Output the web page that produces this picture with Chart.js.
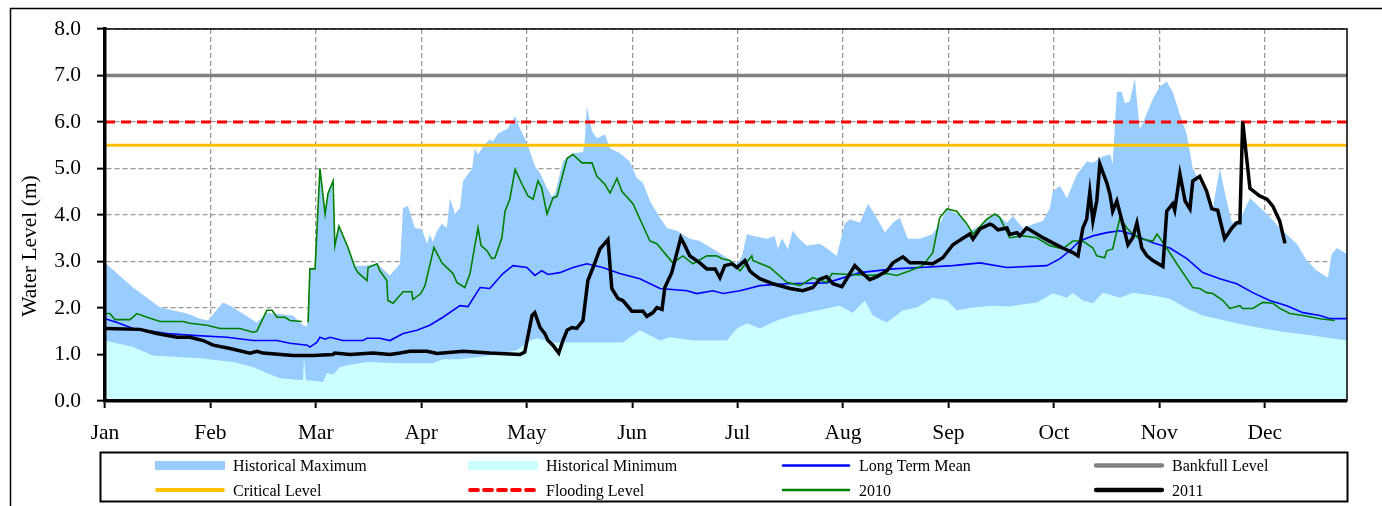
<!DOCTYPE html>
<html>
<head>
<meta charset="utf-8">
<script src="https://cdn.jsdelivr.net/npm/chart.js@4.4.1/dist/chart.umd.min.js"></script>
<style>
html,body{margin:0;background:#fff}
#wrap{width:1382px;height:506px;position:relative}
</style>
</head>
<body>
<div id="wrap"><canvas id="chart-nivel"></canvas></div>
<script>
// ══════════════════════════════════════════
// DADOS (dia do ano, nível em m)
// ══════════════════════════════════════════
const meses=['Jan','Feb','Mar','Apr','May','Jun','Jul','Aug','Sep','Oct','Nov','Dec'];
const diaFinal=358.3;
const yTitulo='Water Level (m)';

const bankfullLevel=7.0, floodingLevel=6.0, criticalLevel=5.5;

const histMax=[[0,2.97],[8.1,2.44],[15.9,2.01],[23.7,1.88],[27.4,1.77],[29.7,1.73],[34.0,2.12],[36.1,2.05],[43.8,1.69],[46.7,1.90],[54.2,1.84],[57.1,1.63],[58.3,1.60],[59.1,2.84],[60.6,2.84],[62.0,5.0],[63.5,4.04],[64.3,4.5],[65.5,4.7],[66.3,3.34],[67.2,3.76],[70.1,3.3],[72.1,2.91],[75.0,2.91],[78.5,2.95],[82.2,2.70],[85.1,2.95],[86.0,4.15],[87.4,4.19],[89.4,3.72],[91.4,3.70],[92.9,3.38],[93.7,3.59],[94.6,3.42],[95.8,3.66],[97.2,3.81],[98.6,3.72],[99.5,4.36],[101.0,4.02],[102.4,4.15],[103.3,4.73],[105.9,5.0],[106.7,5.43],[107.6,5.3],[109.6,5.52],[111.0,5.63],[111.9,5.58],[113.4,5.75],[116.2,5.86],[118.3,6.12],[119.7,5.86],[121.7,5.55],[124.0,5.05],[125.5,4.9],[127.5,4.58],[128.9,4.4],[129.8,4.45],[132.1,5.15],[135.0,5.33],[137.9,5.35],[138.4,5.6],[139.0,6.33],[140.5,5.8],[141.9,5.65],[144.2,5.73],[145.7,5.43],[148.5,5.33],[151.4,5.15],[153.4,4.8],[155.2,4.69],[157.2,4.3],[160.1,3.94],[162.1,3.72],[165.0,3.66],[168.7,3.49],[171.6,3.44],[175.4,3.27],[179.4,3.08],[182.3,2.95],[183.7,3.1],[185.2,3.59],[186.9,3.55],[191.0,3.49],[193.2,3.55],[194.1,3.27],[195.3,3.5],[197.0,3.27],[198.4,3.66],[199.9,3.51],[202.5,3.34],[206.2,3.38],[208.5,3.27],[211.1,3.12],[213.4,3.81],[214.9,3.91],[217.8,3.83],[220.1,4.24],[221.5,4.08],[225.0,3.62],[227.3,3.83],[229.3,3.94],[231.6,3.49],[235.1,3.49],[238.8,3.59],[240.8,3.81],[242.9,4.13],[246.6,4.0],[249.5,3.66],[252.4,3.76],[254.7,3.94],[257.3,4.02],[260.2,3.83],[261.9,3.98],[264.8,3.72],[267.7,3.8],[270.6,3.87],[272.6,4.15],[273.4,4.51],[275.5,4.62],[277.5,4.36],[280.4,4.87],[283.2,5.15],[285.0,5.12],[287.9,5.26],[290.0,5.30],[290.7,5.09],[291.9,6.65],[293.3,6.65],[294.2,6.4],[295.6,6.44],[297.1,6.93],[298.5,5.84],[299.4,5.97],[302.3,6.5],[304.3,6.76],[306.3,6.87],[308.0,6.65],[310.1,6.16],[312.1,5.73],[313.8,5.0],[316.7,4.58],[319.6,4.15],[321.6,5.0],[323.6,4.3],[325.1,3.83],[327.4,3.9],[330.3,4.36],[335.2,4.02],[338.9,3.72],[343.8,3.38],[346.7,3.02],[349.6,2.8],[352.8,2.65],[353.9,3.16],[355.4,3.29],[358.3,3.16]];

const histMin=[[0,1.30],[8.1,1.16],[13.8,0.98],[27.4,0.92],[36.9,0.84],[42.7,0.73],[46.7,0.60],[50.5,0.49],[56.3,0.45],[57.1,0.46],[57.4,0.92],[58.0,0.45],[62.9,0.41],[64.0,0.6],[65.8,0.57],[67.8,0.73],[69.8,0.77],[75.6,0.84],[85.1,0.81],[94.6,0.81],[97.5,0.90],[102.4,0.90],[111.0,0.98],[118.8,1.09],[122.6,1.30],[124.6,1.35],[129.2,1.26],[149.4,1.26],[154.3,1.52],[160.1,1.30],[163.0,1.37],[169.6,1.30],[179.4,1.30],[182.3,1.56],[185.2,1.67],[188.9,1.56],[193.8,1.73],[198.4,1.84],[208.2,1.99],[212.0,2.05],[215.7,1.9],[219.2,2.16],[221.5,1.84],[225.6,1.69],[230.2,1.95],[234.2,2.01],[238.8,2.22],[242.9,2.16],[245.7,1.95],[250.4,2.01],[256.1,2.05],[261.0,2.03],[264.8,2.08],[268.8,2.12],[273.4,2.31],[275.5,2.27],[277.5,2.22],[279.2,2.33],[282.1,2.16],[285.0,2.10],[287.9,2.33],[292.8,2.22],[296.5,2.33],[302.3,2.27],[307.2,2.2],[312.1,1.99],[316.7,1.84],[326.5,1.67],[334.0,1.56],[340.9,1.48],[348.4,1.41],[358.3,1.30]];

const mediaLonga=[[0,1.77],[3.5,1.69],[8.1,1.56],[17.9,1.45],[25.4,1.41],[35.2,1.37],[42.7,1.30],[49.6,1.30],[53.4,1.24],[58.3,1.20],[59.1,1.16],[61.1,1.26],[62.0,1.37],[63.5,1.33],[64.9,1.37],[68.6,1.30],[74.4,1.30],[75.6,1.35],[79.3,1.35],[82.2,1.30],[86.0,1.45],[90.0,1.52],[93.7,1.63],[97.5,1.80],[102.4,2.05],[104.7,2.03],[108.2,2.44],[111.0,2.42],[114.8,2.74],[117.7,2.91],[121.7,2.87],[124.0,2.70],[126.0,2.8],[127.8,2.72],[131.2,2.76],[135.0,2.87],[139.0,2.95],[143.6,2.87],[148.5,2.74],[154.3,2.63],[160.1,2.42],[167.9,2.37],[170.7,2.31],[175.4,2.37],[178.3,2.31],[183.2,2.37],[188.9,2.48],[196.7,2.52],[208.2,2.54],[217.8,2.76],[227.3,2.84],[235.1,2.87],[244.6,2.91],[252.4,2.97],[260.2,2.87],[271.7,2.91],[275.5,3.06],[278.3,3.23],[281.2,3.44],[285.0,3.55],[289.0,3.62],[292.8,3.66],[296.5,3.58],[302.3,3.4],[307.2,3.29],[312.1,3.06],[316.7,2.76],[321.6,2.63],[326.5,2.52],[331.1,2.33],[336.0,2.16],[340.9,2.05],[345.6,1.9],[350.5,1.84],[353.4,1.77],[358.3,1.77]];

const ano2010=[[0,1.88],[1.4,1.88],[2.9,1.75],[7.2,1.75],[9.2,1.88],[12.1,1.80],[15.9,1.71],[22.5,1.71],[24.5,1.67],[29.4,1.63],[33.2,1.56],[38.9,1.56],[42.7,1.48],[43.8,1.50],[46.7,1.95],[48.2,1.95],[49.6,1.8],[51.9,1.8],[53.4,1.73],[56.8,1.71],[57.5,null],[58.6,1.69],[59.1,2.84],[60.6,2.84],[62.0,5.0],[63.5,4.02],[64.3,4.45],[65.8,4.73],[66.3,3.34],[67.5,3.76],[70.1,3.3],[72.1,2.87],[73.0,2.76],[75.6,2.59],[75.9,2.87],[78.5,2.95],[79.3,2.8],[81.3,2.59],[81.6,2.16],[83.1,2.10],[86.0,2.35],[88.5,2.35],[88.8,2.18],[91.1,2.31],[92.3,2.48],[94.9,3.3],[97.2,2.97],[100.4,2.74],[101.5,2.55],[103.8,2.44],[105.3,2.74],[107.6,3.72],[108.5,3.34],[110.2,3.23],[111.6,3.06],[112.5,3.08],[114.5,3.51],[115.4,4.08],[116.8,4.34],[118.3,4.98],[120.3,4.66],[122.0,4.41],[123.5,4.34],[124.9,4.73],[126.0,4.58],[127.5,4.02],[129.2,4.36],[130.4,4.4],[133.3,5.22],[135.0,5.30],[137.6,5.12],[140.5,5.12],[141.9,4.83],[144.2,4.66],[145.7,4.47],[147.7,4.79],[149.1,4.51],[152.3,4.24],[157.2,3.44],[159.2,3.38],[163.8,2.97],[166.7,3.12],[169.6,2.95],[173.6,3.12],[176.5,3.12],[178.0,3.06],[180.3,3.02],[183.2,2.8],[186.6,3.12],[186.9,3.02],[191.8,2.87],[196.7,2.55],[200.5,2.48],[204.2,2.65],[208.2,2.55],[209.7,2.74],[214.9,2.72],[221.5,2.70],[225.6,2.74],[228.4,2.70],[232.2,2.8],[235.9,2.91],[238.8,3.19],[240.8,3.94],[242.9,4.13],[245.7,4.08],[248.6,3.81],[250.4,3.59],[254.4,3.91],[256.7,4.02],[258.1,3.95],[261.0,3.51],[264.8,3.55],[268.8,3.51],[272.6,3.34],[276.3,3.27],[279.2,3.44],[282.1,3.44],[285.0,3.29],[286.1,3.12],[288.4,3.08],[289.0,3.23],[290.7,3.27],[292.8,3.94],[294.8,3.72],[296.5,3.59],[298.5,3.49],[302.3,3.44],[303.5,3.59],[306.3,3.29],[309.2,2.95],[312.1,2.63],[313.8,2.44],[315.8,2.42],[317.8,2.33],[319.6,2.31],[322.5,2.16],[324.5,1.99],[327.4,2.05],[328.2,1.99],[331.1,1.99],[334.0,2.12],[336.9,2.10],[338.9,1.99],[341.8,1.88],[345.6,1.84],[350.5,1.77],[354.8,1.73]];

const ano2011=[[0,1.56],[10.1,1.54],[15.0,1.45],[20.8,1.37],[24.5,1.37],[28.3,1.30],[31.2,1.20],[36.1,1.13],[41.8,1.03],[43.8,1.07],[45.6,1.03],[54.2,0.98],[60.0,0.98],[65.8,1.0],[66.3,1.03],[70.7,1.0],[77.3,1.03],[82.2,1.0],[85.1,1.03],[88.0,1.07],[92.9,1.07],[95.8,1.02],[103.3,1.07],[111.0,1.03],[119.7,1.0],[121.1,1.05],[123.2,1.84],[124.0,1.90],[125.5,1.58],[126.9,1.45],[127.8,1.30],[129.2,1.2],[130.9,1.03],[132.1,1.30],[133.3,1.52],[134.7,1.58],[136.1,1.56],[137.9,1.73],[139.3,2.59],[140.8,2.87],[142.8,3.27],[145.1,3.47],[146.2,2.42],[148.0,2.2],[149.4,2.16],[152.0,1.93],[155.2,1.93],[156.3,1.82],[158.1,1.90],[159.2,2.01],[160.7,1.97],[161.5,2.44],[163.5,2.76],[166.1,3.51],[167.3,3.34],[168.7,3.12],[171.6,2.97],[173.6,2.84],[176.0,2.84],[177.4,2.65],[178.8,2.91],[180.9,2.95],[182.3,2.87],[184.6,3.02],[186.0,2.8],[186.9,2.74],[188.9,2.63],[192.7,2.52],[197.6,2.42],[201.3,2.37],[204.2,2.44],[206.2,2.62],[208.2,2.67],[210.0,2.52],[212.6,2.46],[216.3,2.91],[218.6,2.74],[220.6,2.61],[222.6,2.67],[225.6,2.8],[227.3,2.97],[230.2,3.1],[232.2,2.97],[235.1,2.97],[238.8,2.95],[241.7,3.08],[244.6,3.36],[247.5,3.50],[249.5,3.59],[250.4,3.48],[252.4,3.7],[255.3,3.8],[256.1,3.78],[257.6,3.68],[260.2,3.72],[261.0,3.58],[263.1,3.62],[263.9,3.55],[265.9,3.72],[268.8,3.59],[271.1,3.49],[273.4,3.40],[276.3,3.29],[279.2,3.19],[280.7,3.12],[282.1,3.72],[283.2,3.91],[284.1,4.49],[285.0,3.87],[286.1,4.30],[287.0,5.09],[289.0,4.69],[289.9,4.45],[290.7,4.08],[291.9,4.3],[293.6,3.81],[295.1,3.36],[296.5,3.51],[297.7,3.83],[299.1,3.29],[300.6,3.12],[302.3,3.02],[305.2,2.89],[306.3,4.08],[308.0,4.24],[308.6,4.1],[310.1,4.88],[311.6,4.3],[313.0,4.13],[313.8,4.73],[315.8,4.83],[317.8,4.51],[319.3,4.13],[321.0,4.1],[323.0,3.49],[325.1,3.72],[326.5,3.83],[327.4,3.83],[328.2,6.01],[330.3,4.57],[333.1,4.41],[335.2,4.34],[336.9,4.19],[338.9,3.87],[340.4,3.39]];

// ══════════════════════════════════════════
// GRÁFICO
// ══════════════════════════════════════════
const posMeses=meses.map((m,i)=>i*365/12);
const xy=a=>a.map(([x,y])=>({x,y}));
const nivel=v=>[{x:0,y:v},{x:diaFinal,y:v}];
const fonte="'Liberation Serif','Times New Roman',serif";

// moldura, título do eixo e legenda em caixa
const molduraLegenda={
  id:'molduraLegenda',
  afterDraw(chart){
    const {ctx,chartArea:a}=chart;
    ctx.save();
    ctx.strokeStyle='#000';ctx.lineWidth=1.5;
    ctx.beginPath();ctx.moveTo(a.left,a.top);ctx.lineTo(a.right,a.top);ctx.lineTo(a.right,a.bottom);ctx.stroke();
    ctx.beginPath();ctx.moveTo(10.5,chart.height);ctx.lineTo(10.5,8.5);ctx.lineTo(chart.width,8.5);ctx.stroke();
    ctx.fillStyle='#000';ctx.font=`21.5px ${fonte}`;
    ctx.save();ctx.translate(30,246);ctx.rotate(-Math.PI/2);
    ctx.textAlign='center';ctx.textBaseline='middle';ctx.fillText(yTitulo,0,0);ctx.restore();
    // legenda
    ctx.lineWidth=2;ctx.strokeRect(100.5,452.5,1247,49);
    ctx.font=`16px ${fonte}`;ctx.textAlign='left';ctx.textBaseline='middle';
    chart.data.datasets.forEach((ds,i)=>{
      const sx=155+(i%4)*313,sy=i<4?465.5:490;
      if(ds.fill){
        ctx.fillStyle=ds.backgroundColor;ctx.fillRect(sx,sy-4.5,70,9);
      }else{
        ctx.save();ctx.strokeStyle=ds.borderColor;ctx.lineWidth=ds.borderWidth+0.8;ctx.lineCap='round';
        if(ds.borderDash)ctx.setLineDash([8,6]);
        ctx.beginPath();ctx.moveTo(sx+2,sy);ctx.lineTo(sx+68,sy);ctx.stroke();ctx.restore();
      }
      ctx.fillStyle='#000';ctx.fillText(ds.label,sx+78,sy+1.5);
    });
    ctx.restore();
  }
};

const linha=(label,data,cor,w,order,extra)=>Object.assign({label,data,borderColor:cor,borderWidth:w,pointRadius:0,fill:false,tension:0,order},extra||{});

new Chart(document.getElementById('chart-nivel'),{
  type:'line',
  data:{datasets:[
    {label:'Historical Maximum',data:xy(histMax),backgroundColor:'#99CCFF',borderWidth:0,pointRadius:0,fill:'origin',tension:0,order:8},
    {label:'Historical Minimum',data:xy(histMin),backgroundColor:'#CCFFFF',borderWidth:0,pointRadius:0,fill:'origin',tension:0,order:7},
    linha('Long Term Mean',xy(mediaLonga),'#0000FF',1.6,3),
    linha('Bankfull Level',nivel(bankfullLevel),'#808080',3.5,6),
    linha('Critical Level',nivel(criticalLevel),'#FFC000',3,5),
    linha('Flooding Level',nivel(floodingLevel),'#FF0000',3,4,{borderDash:[10,6]}),
    linha('2010',xy(ano2010),'#008000',1.6,2,{spanGaps:false}),
    linha('2011',xy(ano2011),'#000000',3.5,1)
  ]},
  options:{
    responsive:true,maintainAspectRatio:false,animation:false,
    layout:{padding:{top:27,right:35,bottom:0,left:10}},
    plugins:{legend:{display:false},tooltip:{enabled:false}},
    scales:{
      x:{type:'linear',min:0,max:diaFinal,
        afterFit:s=>{s.height=105;},
        afterBuildTicks:s=>{s.ticks=posMeses.map(v=>({value:v}));},
        ticks:{autoSkip:false,maxRotation:0,padding:12,color:'#000',font:{family:fonte,size:21.5},callback:(v,i)=>meses[i]},
        grid:{color:'#999999',lineWidth:1.3,tickLength:7,tickColor:'#000',tickWidth:2},
        border:{color:'#000',width:3.5,dash:[5,3],z:1}},
      y:{min:0,max:8,
        afterFit:s=>{s.width=95;},
        ticks:{stepSize:1,padding:16,color:'#000',font:{family:fonte,size:21.5},callback:v=>v.toFixed(1)},
        grid:{color:'#999999',lineWidth:1.3,tickLength:8,tickColor:'#000',tickWidth:2},
        border:{color:'#000',width:3.5,dash:[5,3],z:1}}
    }
  },
  plugins:[molduraLegenda]
});
</script>
</body>
</html>
